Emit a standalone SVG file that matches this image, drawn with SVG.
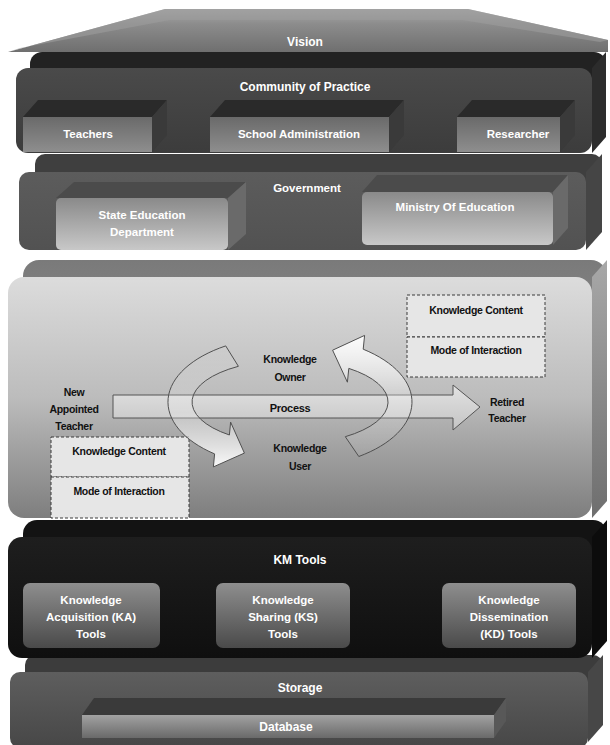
<svg xmlns="http://www.w3.org/2000/svg" width="610" height="745" viewBox="0 0 610 745">
  <defs>
    <linearGradient id="gVision" x1="0" y1="0" x2="0" y2="1">
      <stop offset="0" stop-color="#a8a8a8"/>
      <stop offset="0.35" stop-color="#8c8c8c"/>
      <stop offset="1" stop-color="#6f6f6f"/>
    </linearGradient>
    <linearGradient id="gCop" x1="0" y1="0" x2="0" y2="1">
      <stop offset="0" stop-color="#4a4a4a"/>
      <stop offset="1" stop-color="#3c3c3c"/>
    </linearGradient>
    <linearGradient id="gCopBox" x1="0" y1="0" x2="0" y2="1">
      <stop offset="0" stop-color="#6a6a6a"/>
      <stop offset="1" stop-color="#8e8e8e"/>
    </linearGradient>
    <linearGradient id="gGov" x1="0" y1="0" x2="0" y2="1">
      <stop offset="0" stop-color="#5c5c5c"/>
      <stop offset="1" stop-color="#525252"/>
    </linearGradient>
    <linearGradient id="gGovBox" x1="0" y1="0" x2="0" y2="1">
      <stop offset="0" stop-color="#8a8a8a"/>
      <stop offset="1" stop-color="#c8c8c8"/>
    </linearGradient>
    <linearGradient id="gProc" x1="0" y1="0" x2="0" y2="1">
      <stop offset="0" stop-color="#dcdcdc"/>
      <stop offset="0.5" stop-color="#bcbcbc"/>
      <stop offset="1" stop-color="#7e7e7e"/>
    </linearGradient>
    <linearGradient id="gProcTop" x1="0" y1="0" x2="0" y2="1">
      <stop offset="0" stop-color="#7a7a7a"/>
      <stop offset="1" stop-color="#a4a4a4"/>
    </linearGradient>
    <linearGradient id="gProcSide" x1="0" y1="0" x2="0" y2="1">
      <stop offset="0" stop-color="#a8a8a8"/>
      <stop offset="1" stop-color="#6e6e6e"/>
    </linearGradient>
    <linearGradient id="gShaft" x1="0" y1="0" x2="0" y2="1">
      <stop offset="0" stop-color="#e2e2e2"/>
      <stop offset="1" stop-color="#c4c4c4"/>
    </linearGradient>
    <linearGradient id="gKm" x1="0" y1="0" x2="0" y2="1">
      <stop offset="0" stop-color="#1e1e1e"/>
      <stop offset="1" stop-color="#0f0f0f"/>
    </linearGradient>
    <linearGradient id="gKmBox" x1="0" y1="0" x2="0" y2="1">
      <stop offset="0" stop-color="#8e8e8e"/>
      <stop offset="1" stop-color="#4a4a4a"/>
    </linearGradient>
    <linearGradient id="gStore" x1="0" y1="0" x2="0" y2="1">
      <stop offset="0" stop-color="#5e5e5e"/>
      <stop offset="1" stop-color="#474747"/>
    </linearGradient>
    <linearGradient id="gDb" x1="0" y1="0" x2="0" y2="1">
      <stop offset="0" stop-color="#a2a2a2"/>
      <stop offset="1" stop-color="#6a6a6a"/>
    </linearGradient>
    <!-- cycle arrows: transparent at the tail, white at the head -->
    <linearGradient id="gCycA" gradientUnits="userSpaceOnUse" x1="0" y1="346" x2="0" y2="467">
      <stop offset="0" stop-color="#ffffff" stop-opacity="0.05"/>
      <stop offset="0.55" stop-color="#ffffff" stop-opacity="0.2"/>
      <stop offset="1" stop-color="#ffffff" stop-opacity="0.95"/>
    </linearGradient>
    <linearGradient id="gCycB" gradientUnits="userSpaceOnUse" x1="0" y1="456" x2="0" y2="336">
      <stop offset="0" stop-color="#ffffff" stop-opacity="0.05"/>
      <stop offset="0.45" stop-color="#ffffff" stop-opacity="0.2"/>
      <stop offset="1" stop-color="#ffffff" stop-opacity="0.95"/>
    </linearGradient>
  </defs>
  <style>
    .lbl { font-family: "Liberation Sans", Arial, sans-serif; font-weight: bold; fill: #ffffff; text-anchor: middle; }
    .t12 { font-size: 12px; }
    .t11 { font-size: 11.5px; }
    .dk { font-family: "Liberation Sans", Arial, sans-serif; font-weight: bold; fill: #111111; text-anchor: middle; font-size: 10.5px; letter-spacing: -0.3px; }
    .dash { fill: #e6e6e6; stroke: #3a3a3a; stroke-width: 1; stroke-dasharray: 3 2; }
    .cyc { stroke: #505050; stroke-width: 1; stroke-linejoin: round; }
  </style>

  <!-- Storage layer -->
  <g id="storage">
    <rect x="25" y="655" width="578" height="70" rx="10" fill="#3c3c3c"/>
    <polygon points="588,672 603,655 603,725 588,742" fill="#474747"/>
    <rect x="10" y="672" width="578" height="76" rx="10" fill="url(#gStore)"/>
    <text class="lbl t12" x="300" y="692">Storage</text>
  </g>
  <g id="database">
    <polygon points="82,715 94,698 506,698 494,715" fill="#3a3a3a"/>
    <polygon points="494,715 506,698 506,721 494,738" fill="#585858"/>
    <rect x="82" y="715" width="412" height="23" fill="url(#gDb)"/>
    <text class="lbl t12" x="286" y="731">Database</text>
  </g>

  <!-- KM Tools layer -->
  <g id="km-tools">
    <rect x="23" y="520" width="584" height="121" rx="14" fill="#131313"/>
    <polygon points="592,537 607,520 607,641 592,658" fill="#0c0c0c"/>
    <rect x="8" y="537" width="584" height="121" rx="14" fill="url(#gKm)"/>
    <text class="lbl t12" x="300" y="564">KM Tools</text>
  </g>
  <g id="ka-tools">
    <rect x="23" y="583" width="137" height="65" rx="7" fill="url(#gKmBox)"/>
    <text class="lbl t11" x="91" y="604">Knowledge</text>
    <text class="lbl t11" x="91" y="621">Acquisition (KA)</text>
    <text class="lbl t11" x="91" y="638">Tools</text>
  </g>
  <g id="ks-tools">
    <rect x="216" y="583" width="134" height="65" rx="7" fill="url(#gKmBox)"/>
    <text class="lbl t11" x="283" y="604">Knowledge</text>
    <text class="lbl t11" x="283" y="621">Sharing (KS)</text>
    <text class="lbl t11" x="283" y="638">Tools</text>
  </g>
  <g id="kd-tools">
    <rect x="442" y="583" width="134" height="65" rx="7" fill="url(#gKmBox)"/>
    <text class="lbl t11" x="509" y="604">Knowledge</text>
    <text class="lbl t11" x="509" y="621">Dissemination</text>
    <text class="lbl t11" x="509" y="638">(KD) Tools</text>
  </g>

  <!-- Process layer -->
  <g id="process-layer">
    <rect x="23" y="260" width="584" height="241" rx="16" fill="url(#gProcTop)"/>
    <polygon points="592,277 607,260 607,501 592,518" fill="url(#gProcSide)"/>
    <rect x="8" y="277" width="584" height="241" rx="16" fill="url(#gProc)"/>
  </g>

  <g id="content-right">
    <rect class="dash" x="407" y="295" width="138" height="42"/>
    <text class="dk" x="476" y="314">Knowledge Content</text>
  </g>
  <g id="interaction-right">
    <rect class="dash" x="407" y="337" width="138" height="40"/>
    <text class="dk" x="476" y="354">Mode of Interaction</text>
  </g>
  <g id="content-left">
    <rect class="dash" x="51" y="437" width="138" height="40"/>
    <text class="dk" x="119" y="455">Knowledge Content</text>
  </g>
  <g id="interaction-left">
    <rect class="dash" x="51" y="477" width="138" height="41"/>
    <text class="dk" x="119" y="495">Mode of Interaction</text>
  </g>

  <g id="connectors">
    <!-- process arrow -->
    <path id="process-arrow" d="M113,395 L453,395 L453,385 L480,407 L453,430 L453,418 L113,418 Z" fill="url(#gShaft)" stroke="#555555" stroke-width="1" stroke-linejoin="round"/>
    <!-- knowledge cycle -->
    <path id="cycle-owner-user" class="cyc" fill="url(#gCycA)" d="M225.7,345.9 A122,66 0 0 0 214.6,453.9 L213.4,466.9 L244.4,453.1 L230.6,422.1 L229.4,435.0 A98,42 0 0 1 238.4,366.3 Z"/>
    <path id="cycle-user-owner" class="cyc" fill="url(#gCycB)" d="M358.8,456.5 A122,66 0 0 0 363.2,349.2 L364.6,335.4 L332.6,350.2 L347.4,382.2 L348.8,368.4 A98,42 0 0 1 345.3,436.7 Z"/>
  </g>

  <g id="process-label">
    <text class="dk" x="290" y="412" style="font-size:11px">Process</text>
  </g>
  <g id="new-teacher">
    <text class="dk" x="74" y="396">New</text>
    <text class="dk" x="74" y="413">Appointed</text>
    <text class="dk" x="74" y="430">Teacher</text>
  </g>
  <g id="retired-teacher">
    <text class="dk" x="507" y="406">Retired</text>
    <text class="dk" x="507" y="422">Teacher</text>
  </g>
  <g id="knowledge-owner">
    <text class="dk" x="290" y="363">Knowledge</text>
    <text class="dk" x="290" y="381">Owner</text>
  </g>
  <g id="knowledge-user">
    <text class="dk" x="300" y="452">Knowledge</text>
    <text class="dk" x="300" y="470">User</text>
  </g>

  <!-- Government layer -->
  <g id="government">
    <rect x="35" y="154" width="567" height="78" rx="10" fill="#3f3f3f"/>
    <polygon points="586,172 602,154 602,232 586,250" fill="#454545"/>
    <rect x="19" y="172" width="567" height="78" rx="10" fill="url(#gGov)"/>
    <text class="lbl t11" x="307" y="192">Government</text>
  </g>
  <g id="state-education">
    <polygon points="56,198 74,182 246,182 228,198" fill="#4b4b4b"/>
    <polygon points="228,198 246,182 246,234 228,250" fill="#6a6a6a"/>
    <rect x="56" y="198" width="172" height="52" rx="5" fill="url(#gGovBox)"/>
    <text class="lbl t11" x="142" y="219">State Education</text>
    <text class="lbl t11" x="142" y="236">Department</text>
  </g>
  <g id="ministry">
    <polygon points="362,192 377,175 568,175 553,192" fill="#4b4b4b"/>
    <polygon points="553,192 568,175 568,228 553,245" fill="#6a6a6a"/>
    <rect x="362" y="192" width="191" height="53" rx="5" fill="url(#gGovBox)"/>
    <text class="lbl t11" x="455" y="211">Ministry Of Education</text>
  </g>

  <!-- Community of Practice layer -->
  <g id="community">
    <rect x="30" y="52" width="576" height="85" rx="12" fill="#222222"/>
    <polygon points="592,68 606,52 606,137 592,153" fill="#2c2c2c"/>
    <rect x="16" y="68" width="576" height="85" rx="12" fill="url(#gCop)"/>
    <text class="lbl t12" x="305" y="91">Community of Practice</text>
  </g>
  <g id="teachers">
    <polygon points="23,117 38,100 167,100 152,117" fill="#2a2a2a"/>
    <polygon points="152,117 167,100 167,135 152,152" fill="#3a3a3a"/>
    <rect x="23" y="117" width="129" height="35" fill="url(#gCopBox)"/>
    <text class="lbl t11" x="88" y="138">Teachers</text>
  </g>
  <g id="school-admin">
    <polygon points="210,117 225,100 404,100 389,117" fill="#2a2a2a"/>
    <polygon points="389,117 404,100 404,135 389,152" fill="#3a3a3a"/>
    <rect x="210" y="117" width="179" height="35" fill="url(#gCopBox)"/>
    <text class="lbl t11" x="299" y="138">School Administration</text>
  </g>
  <g id="researcher">
    <polygon points="457,117 472,100 575,100 560,117" fill="#2a2a2a"/>
    <polygon points="560,117 575,100 575,135 560,152" fill="#3a3a3a"/>
    <rect x="457" y="117" width="103" height="35" fill="url(#gCopBox)"/>
    <text class="lbl t11" x="518" y="138">Researcher</text>
  </g>

  <!-- Vision roof -->
  <g id="vision">
    <polygon points="8,52 165,9 468,9 608,40 608,52" fill="url(#gVision)"/>
    <polygon points="165,9 468,9 608,40 600,42 462,20 170,20 20,48 8,52" fill="#9c9c9c" opacity="0.6"/>
    <text class="lbl t12" x="305" y="46">Vision</text>
  </g>
</svg>
